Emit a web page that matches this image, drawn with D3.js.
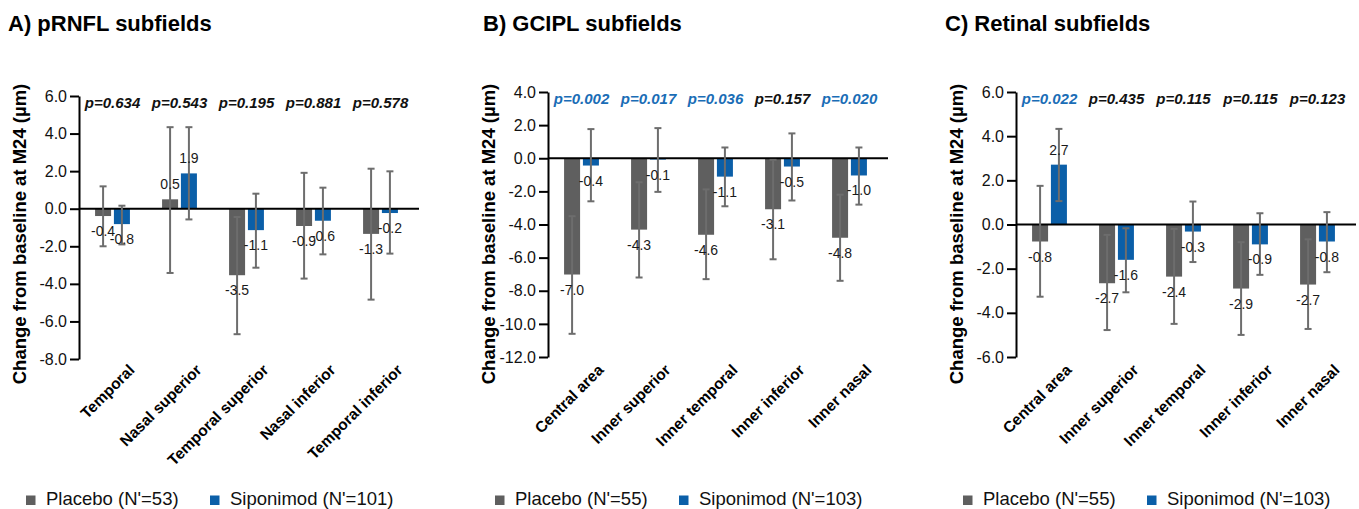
<!DOCTYPE html>
<html>
<head>
<meta charset="utf-8">
<script src="https://cdn.jsdelivr.net/npm/d3@7"></script>
<style>
body { margin: 0; background: #fff; }
text { font-family: "Liberation Sans", Arial, sans-serif; }
</style>
</head>
<body>
<div id="chart"></div>
<script>
// A) pRNFL
var rnflCats = ["Temporal", "Nasal superior", "Temporal superior", "Nasal inferior", "Temporal inferior"];
var rnflPlacebo = [-0.39, 0.5, -3.54, -0.92, -1.34];
var rnflPlaceboLo = [-2.0, -3.42, -6.68, -3.72, -4.84];
var rnflPlaceboHi = [1.19, 4.34, -0.44, 1.91, 2.13];
var rnflSipo = [-0.82, 1.88, -1.14, -0.64, -0.23];
var rnflSipoLo = [-1.9, -0.57, -3.14, -2.43, -2.39];
var rnflSipoHi = [0.16, 4.34, 0.8, 1.12, 1.99];
var rnflP = ["0.634", "0.543", "0.195", "0.881", "0.578"];
var rnflTicks = [-8, -6, -4, -2, 0, 2, 4, 6];

// B) GCIPL
var gciplCats = ["Central area", "Inner superior", "Inner temporal", "Inner inferior", "Inner nasal"];
var gciplPlacebo = [-7.02, -4.31, -4.62, -3.08, -4.8];
var gciplPlaceboLo = [-10.6, -7.2, -7.3, -6.1, -7.4];
var gciplPlaceboHi = [-3.5, -1.45, -1.88, -0.1, -2.2];
var gciplSipo = [-0.44, -0.08, -1.11, -0.5, -1.04];
var gciplSipoLo = [-2.6, -2.03, -2.9, -2.55, -2.8];
var gciplSipoHi = [1.76, 1.82, 0.65, 1.5, 0.65];
var gciplP = ["0.002", "0.017", "0.036", "0.157", "0.020"];
var gciplTicks = [-12, -10, -8, -6, -4, -2, 0, 2, 4];

// C) Retinal
var retCats = ["Central area", "Inner superior", "Inner temporal", "Inner inferior", "Inner nasal"];
var retPlacebo = [-0.77, -2.66, -2.36, -2.9, -2.72];
var retPlaceboLo = [-3.27, -4.78, -4.5, -5.0, -4.73];
var retPlaceboHi = [1.75, -0.47, -0.2, -0.8, -0.67];
var retSipo = [2.71, -1.6, -0.32, -0.9, -0.77];
var retSipoLo = [1.06, -3.07, -1.7, -2.28, -2.16];
var retSipoHi = [4.33, -0.17, 1.04, 0.51, 0.56];
var retP = ["0.022", "0.435", "0.115", "0.115", "0.123"];
var retTicks = [-6, -4, -2, 0, 2, 4, 6];

var groups = ["Placebo", "Siponimod"];
var nPlacebo = [53, 55, 55];
var nSipo = [101, 103, 103];
var titles = ["A) pRNFL subfields", "B) GCIPL subfields", "C) Retinal subfields"];

var colors = { Placebo: "#5f5f5f", Siponimod: "#0b5fa8" };
var errColor = "#6d6d6d";
var pBlue = "#1a6db6";

var svg = d3.select("#chart")
    .append("svg")
    .attr("width", 1359).attr("height", 509);

function make_rows(cats, pm, plo, phi, sm, slo, shi) { // rows for every bar
    var rows = [];
    for (var i = 0; i < cats.length; i++) {
        rows.push({ cat: cats[i], grp: "Placebo", v: pm[i], lo: plo[i], hi: phi[i] });
        rows.push({ cat: cats[i], grp: "Siponimod", v: sm[i], lo: slo[i], hi: shi[i] });
    }
    return rows;
}

function draw_panel(p) {
    var g = svg.append("g");
    var y = d3.scaleLinear().domain([p.ticks[0], p.ticks[p.ticks.length - 1]]).range([p.yBottom, p.yTop]);
    var x0 = d3.scaleBand().domain(p.cats).range([p.axisX, p.axisX + 335]).paddingInner(0.48).paddingOuter(0.24);
    var x1 = d3.scaleBand().domain(groups).range([0, x0.bandwidth()]).paddingInner(0.15);

    g.append("text")
        .attr("x", p.titleX).attr("y", 31)
        .attr("font-size", "22px").attr("font-weight", "bold")
        .text(p.title);

    g.append("text")
        .attr("transform", "translate(" + (p.axisX - 59) + ",234) rotate(-90)")
        .attr("text-anchor", "middle").attr("dy", "0.35em")
        .attr("font-size", "18.5px").attr("font-weight", "bold")
        .text("Change from baseline at M24 (µm)");

    var ax = g.append("g")
        .attr("transform", "translate(" + p.axisX + ",0)")
        .call(d3.axisLeft(y).tickValues(p.ticks).tickSize(9).tickSizeOuter(0).tickPadding(3)
            .tickFormat(function (d) { return d.toFixed(1); }));
    ax.select(".domain").attr("stroke", "#000").attr("stroke-width", 2);
    ax.selectAll(".tick line").attr("stroke", "#000").attr("stroke-width", 2);
    ax.selectAll(".tick text").attr("font-size", "16px").attr("fill", "#111")
        .style("font-family", "'Liberation Sans', Arial, sans-serif");

    var rows = p.rows;
    g.selectAll("rect.bar")
        .data(rows)
        .enter()
        .append("rect")
        .attr("x", function (d) { return x0(d.cat) + x1(d.grp); })
        .attr("y", function (d) { return y(Math.max(0, d.v)); })
        .attr("width", x1.bandwidth())
        .attr("height", function (d) { return Math.abs(y(d.v) - y(0)); })
        .attr("fill", function (d) { return colors[d.grp]; });

    g.append("line")
        .attr("x1", p.axisX).attr("x2", p.axisX + 340)
        .attr("y1", y(0)).attr("y2", y(0))
        .attr("stroke", "#000").attr("stroke-width", 2);

    var cx = function (d) { return x0(d.cat) + x1(d.grp) + x1.bandwidth() / 2; };
    var eb = g.selectAll("g.err").data(rows).enter().append("g")
        .attr("stroke", errColor).attr("stroke-width", 2);
    eb.append("line")
        .attr("x1", cx).attr("x2", cx)
        .attr("y1", function (d) { return y(d.lo); })
        .attr("y2", function (d) { return y(d.hi); });
    eb.append("line")
        .attr("x1", function (d) { return cx(d) - 3.5; }).attr("x2", function (d) { return cx(d) + 3.5; })
        .attr("y1", function (d) { return y(d.lo); }).attr("y2", function (d) { return y(d.lo); });
    eb.append("line")
        .attr("x1", function (d) { return cx(d) - 3.5; }).attr("x2", function (d) { return cx(d) + 3.5; })
        .attr("y1", function (d) { return y(d.hi); }).attr("y2", function (d) { return y(d.hi); });

    g.selectAll("text.val")
        .data(rows)
        .enter()
        .append("text")
        .attr("x", cx)
        .attr("y", function (d) { return d.v < 0 ? y(d.v) + 20 : y(d.v) - 10; })
        .attr("text-anchor", "middle")
        .attr("font-size", "14px").attr("fill", "#1a1a1a")
        .text(function (d) { return d.v.toFixed(1); });

    g.selectAll("text.pval")
        .data(p.cats)
        .enter()
        .append("text")
        .attr("x", function (d) { return x0(d) + x0.bandwidth() / 2; })
        .attr("y", p.yTop + 11.5)
        .attr("text-anchor", "middle")
        .attr("font-size", "15px").attr("font-weight", "bold").attr("font-style", "italic")
        .attr("fill", function (d, i) { return +p.pvals[i] < 0.05 ? pBlue : "#111"; })
        .text(function (d, i) { return "p=" + p.pvals[i]; });

    g.selectAll("text.cat")
        .data(p.cats)
        .enter()
        .append("text")
        .attr("transform", function (d) {
            return "translate(" + (x0(d) + x0.bandwidth() / 2 + 23) + ",371) rotate(-45)";
        })
        .attr("text-anchor", "end")
        .attr("font-size", "15.5px").attr("font-weight", "bold")
        .text(function (d) { return d; });

    // legend
    var lg = g.append("g").attr("transform", "translate(" + p.axisX + ",0)");
    var items = [
        { grp: "Placebo", x: -53, label: "Placebo (N'=" + p.nP + ")" },
        { grp: "Siponimod", x: 131, label: "Siponimod (N'=" + p.nS + ")" }
    ];
    lg.selectAll("rect").data(items).enter().append("rect")
        .attr("x", function (d) { return d.x; }).attr("y", 495.5)
        .attr("width", 9.5).attr("height", 9.5)
        .attr("fill", function (d) { return colors[d.grp]; });
    lg.selectAll("text").data(items).enter().append("text")
        .attr("x", function (d) { return d.x + 20; }).attr("y", 505)
        .attr("font-size", "18.5px").attr("fill", "#111")
        .text(function (d) { return d.label; });
}

var panels = [
    { title: titles[0], titleX: 8, axisX: 79, yTop: 96, yBottom: 359, ticks: rnflTicks, cats: rnflCats, pvals: rnflP,
      rows: make_rows(rnflCats, rnflPlacebo, rnflPlaceboLo, rnflPlaceboHi, rnflSipo, rnflSipoLo, rnflSipoHi),
      nP: nPlacebo[0], nS: nSipo[0] },
    { title: titles[1], titleX: 483, axisX: 548, yTop: 92, yBottom: 357, ticks: gciplTicks, cats: gciplCats, pvals: gciplP,
      rows: make_rows(gciplCats, gciplPlacebo, gciplPlaceboLo, gciplPlaceboHi, gciplSipo, gciplSipoLo, gciplSipoHi),
      nP: nPlacebo[1], nS: nSipo[1] },
    { title: titles[2], titleX: 945, axisX: 1016, yTop: 92, yBottom: 357, ticks: retTicks, cats: retCats, pvals: retP,
      rows: make_rows(retCats, retPlacebo, retPlaceboLo, retPlaceboHi, retSipo, retSipoLo, retSipoHi),
      nP: nPlacebo[2], nS: nSipo[2] }
];
panels.forEach(draw_panel);
</script>
</body>
</html>
